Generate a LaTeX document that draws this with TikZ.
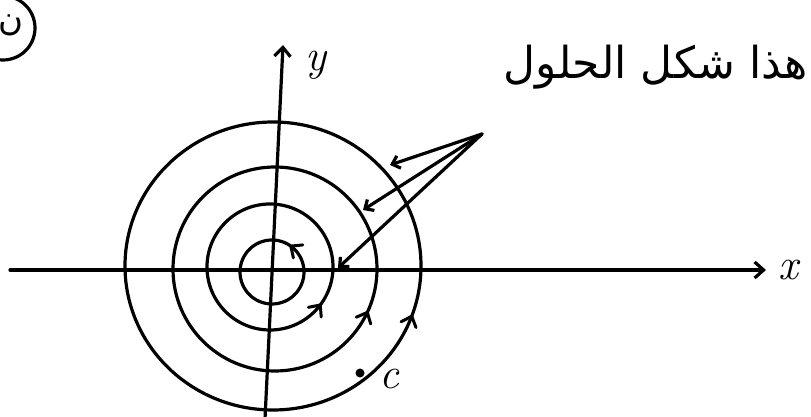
\documentclass[tikz,border=0pt]{standalone}
\usepackage{fontspec}
\newfontfamily\arabicfont[Script=Arabic]{DejaVu Sans}
\TeXXeTstate=1
\usetikzlibrary{arrows.meta,decorations.markings}
\begin{document}
\begin{tikzpicture}[x=1pt,y=1pt,
  ink/.style={line width=3.2pt,line cap=round,line join=round,black},
  tipmark/.style={postaction={decorate,decoration={markings,mark=at position #1 with {\draw[line width=3pt,line cap=round,line join=round] (-9pt,8pt) -- (0,0) -- (-9pt,-8pt);}}}},
  barb/.style={-{Straight Barb[length=7pt,width=13pt]}},
  lbl/.style={inner sep=0pt,font=\fontsize{44}{44}\selectfont\itshape}]
\useasboundingbox (0,0) rectangle (811,417);
% axes
\coordinate (xl) at (10,147);
\coordinate (xr) at (766,147);
\coordinate (yb) at (265,-2);
\coordinate (yt) at (283,372);
\draw[ink,-{Straight Barb[length=9pt,width=16pt]}] (xl) -- (xr);
\draw[ink,-{Straight Barb[length=9pt,width=16pt]}] (yb) -- (yt);
\node[lbl] (xlab) at (788,147) {x};
\node[lbl] (ylab) at (316,352) {y};
% closed orbits
\coordinate (c4) at (273,151);
\coordinate (c3) at (275,148);
\coordinate (c2) at (270,150);
\coordinate (c1) at (272,145);
\draw[ink,tipmark=0.944] (c4) ++(0:148 and 144) arc[start angle=0,end angle=360,x radius=148,y radius=144];
\draw[ink,tipmark=0.93] (c3) ++(0:102) arc[start angle=0,end angle=360,radius=102];
\draw[ink,tipmark=0.897] (c2) ++(0:63) arc[start angle=0,end angle=360,radius=63];
\draw[ink,tipmark=0.15] (c1) ++(0:32) arc[start angle=0,end angle=360,radius=32];
% point C
\coordinate (C) at (360,44);
\fill (C) circle (4.5pt);
\node[lbl] (clab) at (389,38) {c};
% pointers
\coordinate (P) at (482,283);
\coordinate (e4) at (390,252);
\coordinate (e3) at (363,207);
\coordinate (e2) at (338,149);
\draw[ink,barb] (P) -- (e4);
\draw[ink,barb] (P) -- (e3);
\draw[ink,barb] (P) -- (e2);
% label
\node[anchor=east,inner sep=0pt] (txt) at (808,350) {\arabicfont\fontsize{44}{44}\selectfont\beginR هذا شكل الحلول\endR};
% circled letter top-left
\coordinate (m) at (3,389);
\draw[ink] (m) circle (32);
\node[inner sep=0pt] (mlab) at (11,392) {\arabicfont\fontsize{34}{34}\selectfont\beginR ن\endR};
\end{tikzpicture}
\end{document}
